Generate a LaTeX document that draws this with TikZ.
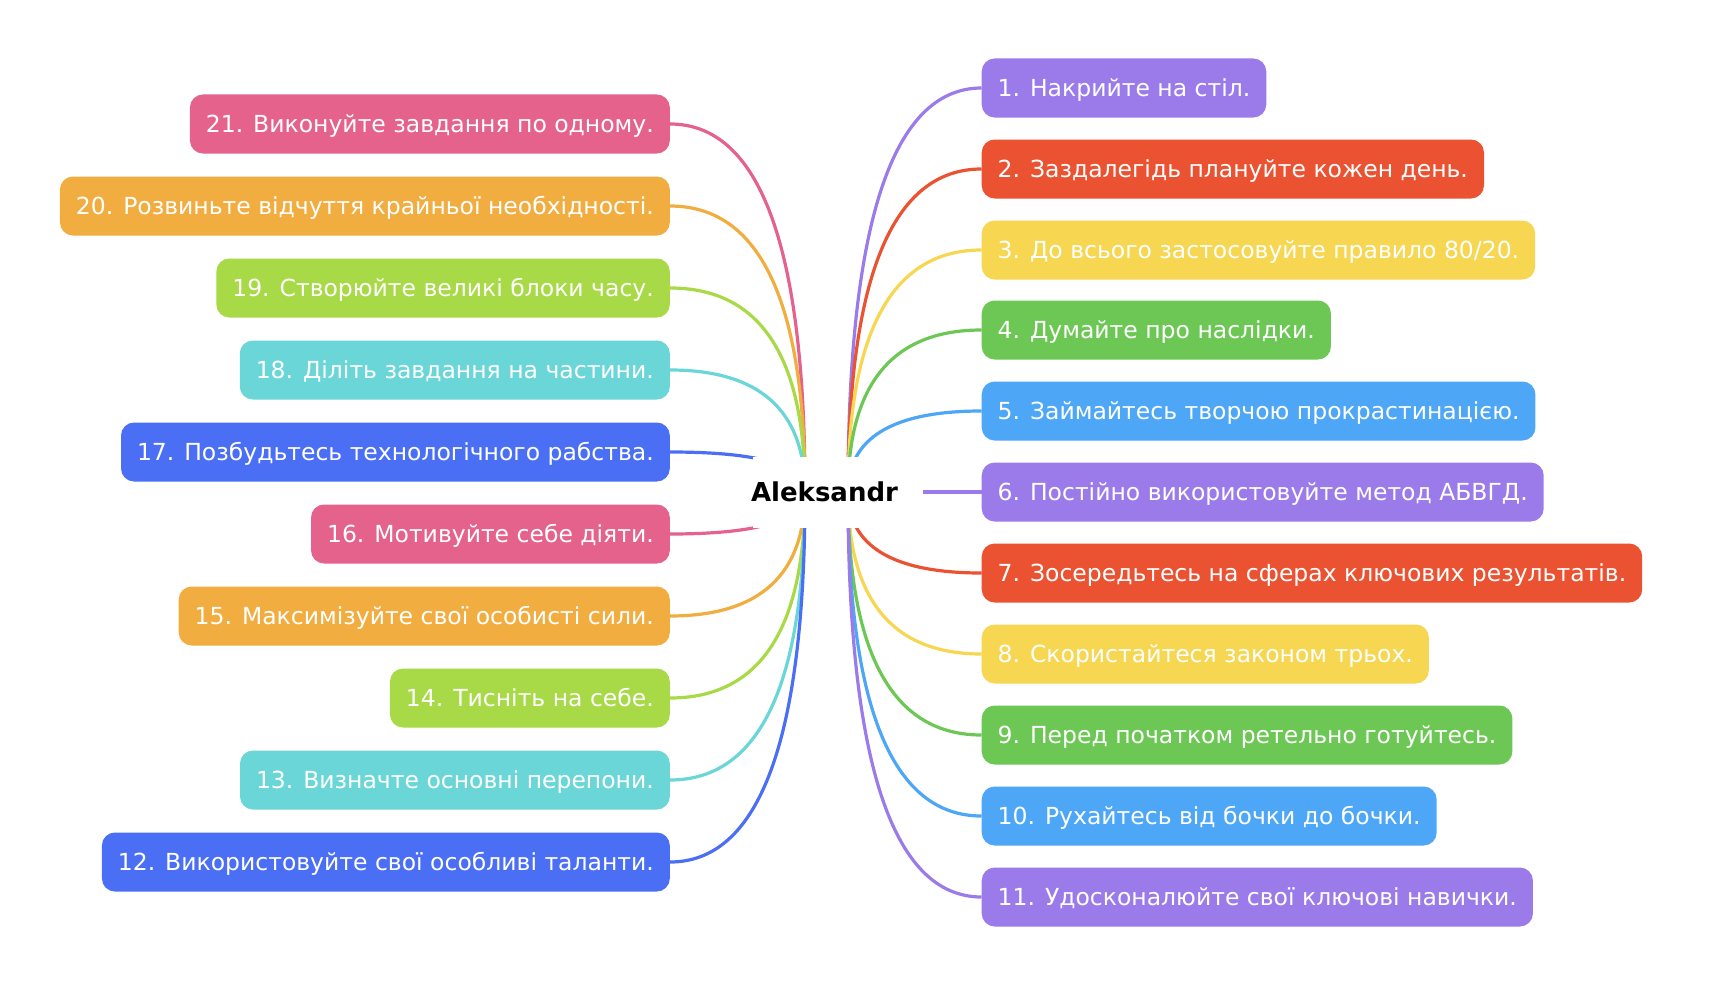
\documentclass[tikz,border=0pt]{standalone}
\usepackage{fontspec}
\setmainfont{DejaVu Sans}
\usetikzlibrary{calc}
\pgfdeclarelayer{back}
\pgfdeclarelayer{bg}
\pgfsetlayers{back,bg,main}
\definecolor{cpurple}{HTML}{9B7BEA}
\definecolor{cred}{HTML}{EA5232}
\definecolor{cyellow}{HTML}{F7D652}
\definecolor{cgreen}{HTML}{6CC755}
\definecolor{cblue}{HTML}{4DA7F6}
\definecolor{cpink}{HTML}{E4628B}
\definecolor{corange}{HTML}{F2AD40}
\definecolor{clime}{HTML}{A8D946}
\definecolor{ccyan}{HTML}{6AD6D8}
\definecolor{croyal}{HTML}{4A6FF5}
\tikzset{
  leaf/.style={fill=#1, rounded corners=13pt, text=white, font=\fontsize{23.5}{28}\selectfont,
    minimum height=59pt, inner xsep=16pt, inner ysep=0pt, text height=21.6pt, text depth=4.5pt},
  rleaf/.style={leaf=#1, anchor=west},
  lleaf/.style={leaf=#1, anchor=east},
  conn/.style={draw=#1, line width=3.2pt},
  rootbox/.style={fill=white, minimum width=170pt, minimum height=71pt, inner sep=0pt},
  roottext/.style={font=\fontsize{26}{30}\selectfont\bfseries, text=black, inner sep=0pt},
}
\begin{document}
\begin{tikzpicture}[x=1pt,y=-1pt]
\useasboundingbox (0,0) rectangle (1717,998);
\begin{pgfonlayer}{back}
\fill[white] (0,0) rectangle (1717,998);
\end{pgfonlayer}
% right
\node[rleaf=cpurple] (b1) at (981.5,88) {1. Накрийте на стіл.};
\node[rleaf=cred] (b2) at (981.5,169) {2. Заздалегідь плануйте кожен день.};
\node[rleaf=cyellow] (b3) at (981.5,250) {3. До всього застосовуйте правило 80/20.};
\node[rleaf=cgreen] (b4) at (981.5,330) {4. Думайте про наслідки.};
\node[rleaf=cblue] (b5) at (981.5,411) {5. Займайтесь творчою прокрастинацією.};
\node[rleaf=cpurple] (b6) at (981.5,492) {6. Постійно використовуйте метод АБВГД.};
\node[rleaf=cred] (b7) at (981.5,573) {7. Зосередьтесь на сферах ключових результатів.};
\node[rleaf=cyellow] (b8) at (981.5,654) {8. Скористайтеся законом трьох.};
\node[rleaf=cgreen] (b9) at (981.5,735) {9. Перед початком ретельно готуйтесь.};
\node[rleaf=cblue] (b10) at (981.5,816) {10. Рухайтесь від бочки до бочки.};
\node[rleaf=cpurple] (b11) at (981.5,897) {11. Удосконалюйте свої ключові навички.};
% left
\node[lleaf=cpink] (b21) at (670,124) {21. Виконуйте завдання по одному.};
\node[lleaf=corange] (b20) at (670,206) {20. Розвиньте відчуття крайньої необхідності.};
\node[lleaf=clime] (b19) at (670,288) {19. Створюйте великі блоки часу.};
\node[lleaf=ccyan] (b18) at (670,370) {18. Діліть завдання на частини.};
\node[lleaf=croyal] (b17) at (670,452) {17. Позбудьтесь технологічного рабства.};
\node[lleaf=cpink] (b16) at (670,534) {16. Мотивуйте себе діяти.};
\node[lleaf=corange] (b15) at (670,616) {15. Максимізуйте свої особисті сили.};
\node[lleaf=clime] (b14) at (670,698) {14. Тисніть на себе.};
\node[lleaf=ccyan] (b13) at (670,780) {13. Визначте основні перепони.};
\node[lleaf=croyal] (b12) at (670,862) {12. Використовуйте свої особливі таланти.};
% root
\coordinate (sR) at (848,492);
\coordinate (sL) at (805,492);
\node[rootbox] (rootbg) at (838,492.5) {};
\node[roottext, anchor=base] (root) at (824.5,501.7) {Aleksandr};
\begin{pgfonlayer}{bg}
\foreach \i/\c in {1/cpurple,2/cred,3/cyellow,4/cgreen,5/cblue,6/cpurple,7/cred,8/cyellow,9/cgreen,10/cblue,11/cpurple}
  \draw[conn=\c] (sR) .. controls ($(sR)!0.6667!(sR|-b\i.west)$) and ($(b\i.west)!0.6667!(sR|-b\i.west)$) .. (b\i.west);
\foreach \i/\c in {21/cpink,20/corange,19/clime,18/ccyan,17/croyal,16/cpink,15/corange,14/clime,13/ccyan,12/croyal}
  \draw[conn=\c] (sL) .. controls ($(sL)!0.6667!(sL|-b\i.east)$) and ($(b\i.east)!0.6667!(sL|-b\i.east)$) .. (b\i.east);
\end{pgfonlayer}
\end{tikzpicture}
\end{document}
